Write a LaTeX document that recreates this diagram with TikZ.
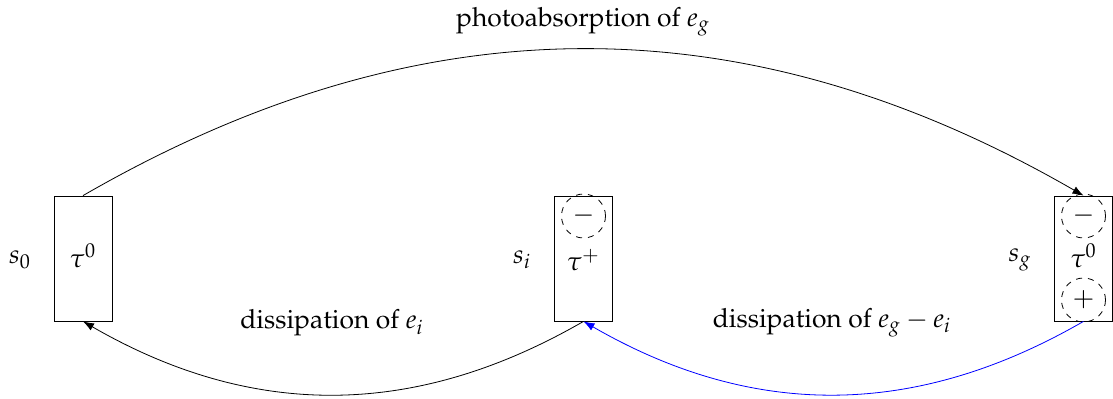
\documentclass[tikz,border=0pt]{standalone}
\usepackage[T1]{fontenc}
\usepackage{mathpazo}
\usetikzlibrary{arrows.meta}
\newcommand{\mysize}{\fontsize{13.2}{16}\selectfont}
\begin{document}
\begin{tikzpicture}[x=0.5pt,y=-0.5pt,
  state/.style={draw, minimum width=29pt, minimum height=62.5pt, inner sep=0pt},
  charge/.style={draw, dashed, circle, minimum size=22pt, inner sep=0pt, font=\mysize},
  conn/.style={-{Latex[length=5.5pt,width=4pt]}, thin},
  lbl/.style={font=\mysize}]
\useasboundingbox (0,0) rectangle (1113,399);
\node[state] (b0) at (83,258.5) {};
\node[state] (bi) at (583.5,258.5) {};
\node[state] (bg) at (1083.5,258.5) {};
\node[lbl] (t0) at (83,256) {$\tau^0$};
\node[lbl] (ti) at (583.5,260) {$\tau^+$};
\node[lbl] (tg) at (1083.5,256) {$\tau^0$};
\node[charge] (ci) at (583.5,216) {$-$};
\node[charge] (cg1) at (1083.5,216) {$-$};
\node[charge] (cg2) at (1083.5,300) {$+$};
\node[lbl] (s0) at (20,260) {$s_0$};
\node[lbl] (si) at (522,260) {$s_i$};
\node[lbl] (sg) at (1020,260) {$s_g$};
\node[lbl] (la) at (583,22) {photoabsorption of $e_g$};
\node[lbl] (lb) at (332,323) {dissipation of $e_i$};
\node[lbl] (lc) at (832,323) {dissipation of $e_g-e_i$};
\draw[conn] (b0.north) to[bend left=30] (bg.north);
\draw[conn] (bi.south) to[bend left=30] (b0.south);
\draw[conn, blue] (bg.south) to[bend left=30] (bi.south);
\end{tikzpicture}
\end{document}
